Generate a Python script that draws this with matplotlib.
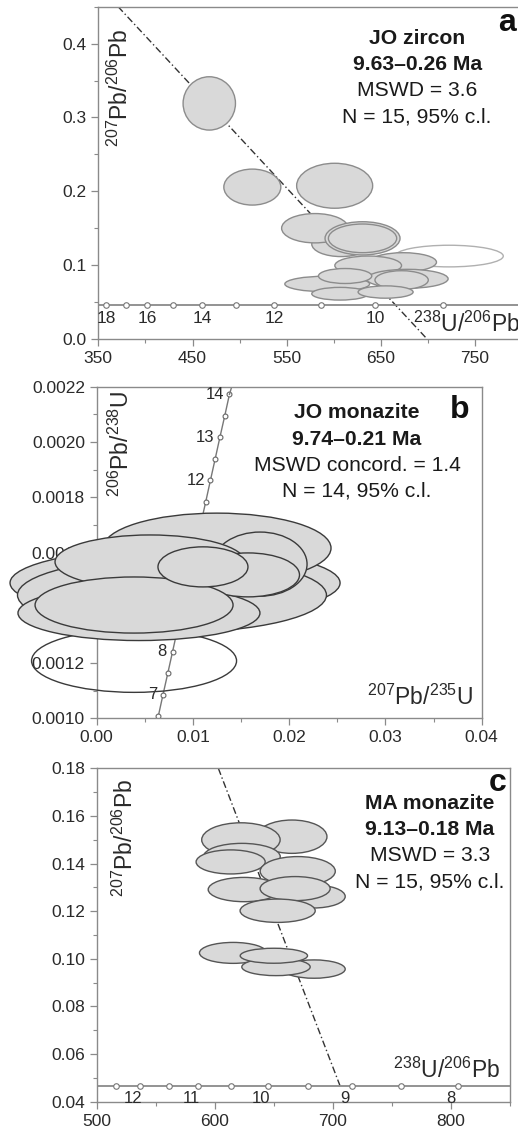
import matplotlib
matplotlib.use('Agg')
import matplotlib.pyplot as plt
from matplotlib.patches import Ellipse
from matplotlib.ticker import MultipleLocator, FixedLocator, FormatStrFormatter

plt.rcParams['font.family'] = ['Liberation Sans', 'DejaVu Sans']
plt.rcParams['mathtext.fontset'] = 'custom'
plt.rcParams['mathtext.rm'] = 'Liberation Sans'
plt.rcParams['mathtext.it'] = 'Liberation Sans'
plt.rcParams['mathtext.bf'] = 'Liberation Sans:bold'

# ---- panel a: JO zircon, Tera-Wasserburg ----
a_x = [467.8, 513.5, 600.9, 607.6, 580.0, 630.5, 673.6, 636.5, 593.0, 678.0, 612.0, 672.0, 606.6, 655.0]
a_y = [0.319, 0.2057, 0.2075, 0.1286, 0.150, 0.1363, 0.104, 0.0995, 0.0745, 0.0815, 0.0853, 0.0798, 0.0613, 0.0636]
a_w = [55.6, 60.5, 80.7, 62.0, 70.8, 79.6, 70.8, 70.8, 90.0, 86.7, 56.6, 56.6, 60.0, 58.4]
a_h = [0.0722, 0.0487, 0.0609, 0.034, 0.0397, 0.045, 0.0257, 0.0257, 0.0212, 0.0257, 0.0203, 0.0253, 0.0172, 0.0167]
a_open = (722.4, 0.1123, 115.0, 0.0293)
a_conc_age = [18, 17, 16, 15, 14, 13, 12, 11, 10, 9]
a_conc_x = [358, 379, 402, 429, 460, 496, 537, 586, 644, 716]
a_conc_y = 0.046
a_conc_lab = [18, 16, 14, 12, 10]
a_line_x = [371, 699]
a_line_y = [0.45, 0.0]
a_xticks = [350, 450, 550, 650, 750]

# ---- panel b: JO monazite, Wetherill ----
b_x = [0.00814, 0.00782, 0.01250, 0.01697, 0.00439, 0.00554, 0.01572, 0.00388, 0.01104]
b_y = [0.00149, 0.001446, 0.001616, 0.001558, 0.001381, 0.001566, 0.001519, 0.001410, 0.001548]
b_w = [0.03429, 0.0321, 0.02369, 0.00977, 0.02514, 0.01974, 0.0107, 0.02057, 0.00935]
b_h = [0.000253, 0.000271, 0.000253, 0.000232, 0.000199, 0.000195, 0.000159, 0.000203, 0.000145]
b_open = (0.00388, 0.001208, 0.0213, 0.000228)
b_conc_age = [6.5, 7, 7.5, 8, 8.5, 9, 9.5, 10, 10.5, 11, 11.5, 12, 12.5, 13, 13.5, 14]
b_conc_x = [0.00640, 0.00689, 0.00739, 0.00788, 0.00837, 0.00886, 0.00936, 0.00985,
            0.01034, 0.01083, 0.01133, 0.01182, 0.01231, 0.01280, 0.01330, 0.01379]
b_conc_y = [0.001008, 0.001086, 0.001164, 0.001241, 0.001319, 0.001396, 0.001474, 0.001551,
            0.001629, 0.001706, 0.001784, 0.001862, 0.001939, 0.002017, 0.002094, 0.002172]
b_conc_lab = [7, 8, 12, 13, 14]

# ---- panel c: MA monazite, Tera-Wasserburg ----
c_x = [665.3, 622.1, 622.9, 613.4, 670.2, 624.8, 683.4, 668.0, 653.2, 615.5, 684.0, 651.8, 650.0]
c_y = [0.1513, 0.150, 0.1429, 0.1407, 0.1368, 0.1291, 0.1262, 0.1295, 0.1202, 0.1025, 0.0957, 0.0966, 0.1013]
c_w = [59.3, 66.4, 65.0, 58.5, 63.6, 60.8, 54.0, 59.3, 63.6, 57.0, 52.8, 57.9, 57.0]
c_h = [0.014, 0.01428, 0.0112, 0.0101, 0.0123, 0.0102, 0.0097, 0.0101, 0.0098, 0.0088, 0.0077, 0.0073, 0.0063]
c_conc_age = [12.5, 12, 11.5, 11, 10.5, 10, 9.5, 9, 8.5, 8]
c_conc_x = [516, 537, 561, 586, 614, 645, 679, 716, 758, 806]
c_conc_y = 0.0467
c_conc_lab = [12, 11, 10, 9, 8]
c_line_x = [603, 706]
c_line_y = [0.18, 0.0467]

SP = '#8a8a8a'
TXT = '#2a2a2a'
FILL = '#d9d9d9'

fig = plt.figure(figsize=(5.18, 11.3), dpi=100)
ax_a = fig.add_axes([0.1898, 0.70, 0.8183, 0.2941])
ax_b = fig.add_axes([0.1867, 0.3643, 0.7432, 0.2935])
ax_c = fig.add_axes([0.1867, 0.02504, 0.7980, 0.2950])


def style(ax, xmaj, xmin, ymaj, ymin, xfmt, yfmt):
    for s in ax.spines.values():
        s.set_color(SP)
        s.set_linewidth(1.0)
    ax.xaxis.set_major_locator(xmaj)
    ax.xaxis.set_minor_locator(xmin)
    ax.yaxis.set_major_locator(MultipleLocator(ymaj))
    ax.yaxis.set_minor_locator(MultipleLocator(ymin))
    ax.xaxis.set_major_formatter(FormatStrFormatter(xfmt))
    ax.yaxis.set_major_formatter(FormatStrFormatter(yfmt))
    ax.tick_params(which='major', direction='out', length=5, width=0.9, color=SP,
                   labelcolor=TXT, labelsize=12.5)
    ax.tick_params(which='minor', direction='out', length=3, width=0.8, color=SP)


def info(ax, xc, ys, lines, letter, lpos):
    for i, (t, y) in enumerate(zip(lines, ys)):
        ax.text(xc, y, t, transform=ax.transAxes, ha='center', va='center',
                fontsize=15.2, fontweight='bold' if i < 2 else 'normal', color='#1a1a1a')
    ax.text(lpos[0], lpos[1], letter, transform=ax.transAxes, ha='center', va='center',
            fontsize=23, fontweight='bold', color='#111111')


# panel a
ax = ax_a
ax.set_xlim(350, 800)
ax.set_ylim(0, 0.45)
style(ax, FixedLocator(a_xticks), FixedLocator([400, 500, 600, 700, 800]),
      0.1, 0.05, '%d', '%.1f')
ax.plot(a_line_x, a_line_y, color='#333333', lw=1.0, ls=(0, (5, 2, 1, 2)), zorder=2)
ax.plot([350, 800], [a_conc_y, a_conc_y], color='#8a8a8a', lw=1.3, zorder=2)
ax.plot(a_conc_x, [a_conc_y] * len(a_conc_x), ls='none', marker='o', ms=4, mfc='white',
        mec='#777777', mew=0.8, zorder=2.5)
for age, x in zip(a_conc_age, a_conc_x):
    if age in a_conc_lab:
        ax.annotate(str(age), (x, a_conc_y), xytext=(0, -10), textcoords='offset points',
                    ha='center', va='center', fontsize=12.5, color=TXT)
ax.add_patch(Ellipse(a_open[:2], a_open[2], a_open[3], fc='none', ec='#b0b0b0', lw=1.0, zorder=3))
for x, y, w, h in zip(a_x, a_y, a_w, a_h):
    ax.add_patch(Ellipse((x, y), w, h, fc=FILL, ec='#8c8c8c', lw=1.0, zorder=3))
ax.add_patch(Ellipse((630.5, 0.1363), 72.5, 0.0388, fc='none', ec='#8c8c8c', lw=1.0, zorder=3))
ax.text(0.051, 0.757, r'$^{207}$Pb/$^{206}$Pb', transform=ax.transAxes, rotation=90,
        ha='center', va='center', fontsize=16.5, color=TXT)
ax.text(0.742, 0.045, r'$^{238}$U/$^{206}$Pb', transform=ax.transAxes,
        ha='left', va='center', fontsize=16.5, color=TXT)
info(ax, 0.752, [0.903, 0.825, 0.747, 0.668],
     ['JO zircon', '9.63\u20130.26 Ma', 'MSWD = 3.6', 'N = 15, 95% c.l.'], 'a', (0.964, 0.951))

# panel b
ax = ax_b
ax.set_xlim(0, 0.04)
ax.set_ylim(0.001, 0.0022)
style(ax, MultipleLocator(0.01), MultipleLocator(0.005), 0.0002, 0.0001, '%.2f', '%.4f')
ax.plot(b_conc_x, b_conc_y, color='#777777', lw=1.0, marker='o', ms=3.5, mfc='white',
        mec='#666666', mew=0.8, zorder=2)
ax.plot([b_conc_x[-1], 0.01403], [b_conc_y[-1], 0.0022], color='#777777', lw=1.0, zorder=2)
for age, x, y in zip(b_conc_age, b_conc_x, b_conc_y):
    if age in b_conc_lab:
        ax.annotate(str(age), (x, y), xytext=(-4, 0), textcoords='offset points',
                    ha='right', va='center', fontsize=12, color=TXT)
ax.add_patch(Ellipse(b_open[:2], b_open[2], b_open[3], fc='none', ec='#3a3a3a', lw=1.0,
                     zorder=3, clip_on=False))
for x, y, w, h in zip(b_x, b_y, b_w, b_h):
    ax.add_patch(Ellipse((x, y), w, h, fc=FILL, ec='#3a3a3a', lw=1.0, zorder=3, clip_on=False))
ax.text(0.065, 0.829, r'$^{206}$Pb/$^{238}$U', transform=ax.transAxes, rotation=90,
        ha='center', va='center', fontsize=16.5, color=TXT)
ax.text(0.978, 0.064, r'$^{207}$Pb/$^{235}$U', transform=ax.transAxes,
        ha='right', va='center', fontsize=16.5, color=TXT)
info(ax, 0.676, [0.921, 0.842, 0.761, 0.685],
     ['JO monazite', '9.74\u20130.21 Ma', 'MSWD concord. = 1.4', 'N = 14, 95% c.l.'], 'b', (0.944, 0.930))

# panel c
ax = ax_c
ax.set_xlim(500, 850)
ax.set_ylim(0.04, 0.18)
style(ax, MultipleLocator(100), MultipleLocator(50), 0.02, 0.01, '%d', '%.2f')
ax.plot(c_line_x, c_line_y, color='#333333', lw=1.0, ls=(0, (5, 2, 1, 2)), zorder=2)
ax.plot([500, 850], [c_conc_y, c_conc_y], color='#8a8a8a', lw=1.3, zorder=2)
ax.plot(c_conc_x, [c_conc_y] * len(c_conc_x), ls='none', marker='o', ms=4, mfc='white',
        mec='#777777', mew=0.8, zorder=2.5)
for age, x in zip(c_conc_age, c_conc_x):
    if age in c_conc_lab:
        ax.annotate(str(age), (x, c_conc_y), xytext=(-5, -9), textcoords='offset points',
                    ha='center', va='center', fontsize=12, color=TXT)
for x, y, w, h in zip(c_x, c_y, c_w, c_h):
    ax.add_patch(Ellipse((x, y), w, h, fc=FILL, ec='#555555', lw=1.0, zorder=3))
ax.text(0.069, 0.791, r'$^{207}$Pb/$^{206}$Pb', transform=ax.transAxes, rotation=90,
        ha='center', va='center', fontsize=16.5, color=TXT)
ax.text(0.976, 0.095, r'$^{238}$U/$^{206}$Pb', transform=ax.transAxes,
        ha='right', va='center', fontsize=16.5, color=TXT)
info(ax, 0.806, [0.896, 0.818, 0.740, 0.659],
     ['MA monazite', '9.13\u20130.18 Ma', 'MSWD = 3.3', 'N = 15, 95% c.l.'], 'c', (0.969, 0.956))

fig.savefig('out.png', dpi=100)
